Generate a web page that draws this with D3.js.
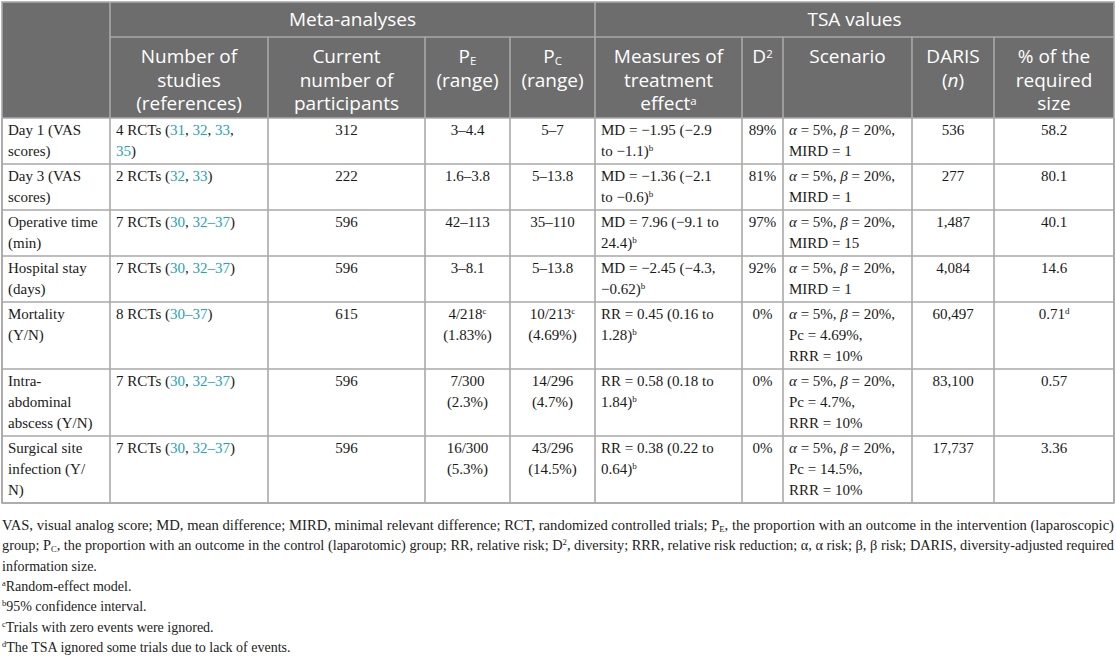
<!DOCTYPE html>
<html>
<head>
<meta charset="utf-8">
<script src="https://cdnjs.cloudflare.com/ajax/libs/d3/7.8.5/d3.min.js"></script>
<style>
  body { margin: 0; background: #fff; }
</style>
</head>
<body>
<div id="chart-area"></div>
<script>
// TABLE DATA -----------------------------------------------------
// markup: {r:..} reference link, {^..} superscript, {_..} subscript, {i:..} italic, \n line break
var outcomes = ["Day 1 (VAS\nscores)", "Day 3 (VAS\nscores)", "Operative time\n(min)", "Hospital stay\n(days)",
    "Mortality\n(Y/N)", "Intra-\nabdominal\nabscess (Y/N)", "Surgical site\ninfection (Y/\nN)"];
var studies = ["4 RCTs ({r:31}, {r:32}, {r:33},\n{r:35})", "2 RCTs ({r:32}, {r:33})", "7 RCTs ({r:30}, {r:32–37})",
    "7 RCTs ({r:30}, {r:32–37})", "8 RCTs ({r:30–37})", "7 RCTs ({r:30}, {r:32–37})", "7 RCTs ({r:30}, {r:32–37})"];
var participants = ["312", "222", "596", "596", "615", "596", "596"];
var pE = ["3–4.4", "1.6–3.8", "42–113", "3–8.1", "4/218{^c}\n(1.83%)", "7/300\n(2.3%)", "16/300\n(5.3%)"];
var pC = ["5–7", "5–13.8", "35–110", "5–13.8", "10/213{^c}\n(4.69%)", "14/296\n(4.7%)", "43/296\n(14.5%)"];
var effects = ["MD = −1.95 (−2.9\nto −1.1){^b}", "MD = −1.36 (−2.1\nto −0.6){^b}", "MD = 7.96 (−9.1 to\n24.4){^b}",
    "MD = −2.45 (−4.3,\n−0.62){^b}", "RR = 0.45 (0.16 to\n1.28){^b}", "RR = 0.58 (0.18 to\n1.84){^b}", "RR = 0.38 (0.22 to\n0.64){^b}"];
var diversity = ["89%", "81%", "97%", "92%", "0%", "0%", "0%"];
var scenarios = ["{i:α} = 5%, {i:β} = 20%,\nMIRD = 1", "{i:α} = 5%, {i:β} = 20%,\nMIRD = 1", "{i:α} = 5%, {i:β} = 20%,\nMIRD = 15",
    "{i:α} = 5%, {i:β} = 20%,\nMIRD = 1", "{i:α} = 5%, {i:β} = 20%,\nPc = 4.69%,\nRRR = 10%",
    "{i:α} = 5%, {i:β} = 20%,\nPc = 4.7%,\nRRR = 10%", "{i:α} = 5%, {i:β} = 20%,\nPc = 14.5%,\nRRR = 10%"];
var daris = ["536", "277", "1,487", "4,084", "60,497", "83,100", "17,737"];
var requiredPct = ["58.2", "80.1", "40.1", "14.6", "0.71{^d}", "0.57", "3.36"];

var columnHeaders = ["", "Number of\nstudies\n(references)", "Current\nnumber of\nparticipants", "P{_E}\n(range)", "P{_C}\n(range)",
    "Measures of\ntreatment\neffect{^a}", "D{^2}", "Scenario", "DARIS\n({i:n})", "% of the\nrequired\nsize"];
var groupHeaders = ["Meta-analyses", "TSA values"];
var groupSpans = [[1, 4], [5, 9]];

var footnotes = [
    "VAS, visual analog score; MD, mean difference; MIRD, minimal relevant difference; RCT, randomized controlled trials; P{_E}, the proportion with an outcome in the intervention (laparoscopic)",
    "group; P{_C}, the proportion with an outcome in the control (laparotomic) group; RR, relative risk; D{^2}, diversity; RRR, relative risk reduction; α, α risk; β, β risk; DARIS, diversity-adjusted required",
    "information size.",
    "{^a}Random-effect model.",
    "{^b}95% confidence interval.",
    "{^c}Trials with zero events were ignored.",
    "{^d}The TSA ignored some trials due to lack of events."
];

// LAYOUT ----------------------------------------------------------
var W = 1116, H = 658;
var colEdges = [2, 110, 268, 425, 510, 595, 742, 783, 912, 994, 1114];
var colAlign = ["start", "start", "middle", "middle", "middle", "start", "middle", "start", "middle", "middle"];
var top0 = 2, head1 = 37, head2 = 118;
var lineH = 21, rowPad = 4;
var headBg = "#6d6d6d", lineCol = "#a9a9a9", refCol = "#26a3b5";
var serif = "'Liberation Serif', 'Times New Roman', serif";
var sans = "'Open Sans', 'Noto Sans', sans-serif";

var columns = [outcomes, studies, participants, pE, pC, effects, diversity, scenarios, daris, requiredPct];
var rows = outcomes.map((d, i) => columns.map(c => c[i]));

var svg = d3.select("#chart-area").append("svg")
    .attr("width", W)
    .attr("height", H);

// rich text helper
function rich(textSel, str) {
    str.split(/(\{[^}]*\})/).filter(s => s.length).forEach(tok => {
        var m = tok.match(/^\{(\^|_|i:|r:)(.*)\}$/);
        var t = textSel.append("tspan");
        if (!m) { t.text(tok); return; }
        t.text(m[2]);
        if (m[1] == "^") t.attr("baseline-shift", "5").attr("font-size", "60%");
        if (m[1] == "_") t.attr("baseline-shift", "-2").attr("font-size", "60%");
        if (m[1] == "i:") t.attr("font-style", "italic");
        if (m[1] == "r:") t.attr("fill", refCol);
    });
}

function cellX(ci) {
    return colAlign[ci] == "middle" ? (colEdges[ci] + colEdges[ci + 1]) / 2 : colEdges[ci] + 6;
}

// HEADER ----------------------------------------------------------
var header = svg.append("g").attr("name", "Header");
header.append("rect")
    .attr("x", colEdges[0]).attr("y", top0)
    .attr("width", colEdges[10] - colEdges[0]).attr("height", head2 - top0)
    .attr("fill", headBg);

groupHeaders.forEach((g, i) => {
    var a = colEdges[groupSpans[i][0]], b = colEdges[groupSpans[i][1] + 1];
    header.append("text")
        .attr("x", (a + b) / 2).attr("y", 26)
        .attr("text-anchor", "middle")
        .attr("font-family", sans).attr("font-size", "19px")
        .attr("fill", "#fff")
        .text(g);
});

columnHeaders.forEach((h, ci) => {
    if (!h) return;
    h.split("\n").forEach((line, li) => {
        var t = header.append("text")
            .attr("x", (colEdges[ci] + colEdges[ci + 1]) / 2)
            .attr("y", 63 + li * 23.5)
            .attr("text-anchor", "middle")
            .attr("font-family", sans).attr("font-size", "19px")
            .attr("fill", "#fff");
        rich(t, line);
    });
});

// header grid lines
header.append("line")
    .attr("x1", colEdges[1]).attr("x2", colEdges[10])
    .attr("y1", head1).attr("y2", head1)
    .attr("stroke", lineCol).attr("stroke-width", 1.6);
colEdges.slice(1, 10).forEach((x, i) => {
    var isGroupEdge = (i + 1 == 1 || i + 1 == 5);
    header.append("line")
        .attr("x1", x).attr("x2", x)
        .attr("y1", isGroupEdge ? top0 : head1).attr("y2", head2)
        .attr("stroke", lineCol).attr("stroke-width", 1.6);
});

// BODY ------------------------------------------------------------
var rowHeights = rows.map(r => rowPad + lineH * d3.max(r, c => c.split("\n").length));
var rowTops = [head2].concat(Array.from(d3.cumsum(rowHeights), v => head2 + v));
var bottom = rowTops[rowTops.length - 1];

var body = svg.append("g").attr("name", "Body");

rows.forEach((r, ri) => {
    r.forEach((cell, ci) => {
        cell.split("\n").forEach((line, li) => {
            var t = body.append("text")
                .attr("x", cellX(ci))
                .attr("y", rowTops[ri] + 17 + li * lineH)
                .attr("text-anchor", colAlign[ci])
                .attr("font-family", serif).attr("font-size", "15px")
                .attr("fill", "#1a1a1a");
            rich(t, line);
        });
    });
});

// body grid
rowTops.forEach(y => {
    body.append("line")
        .attr("x1", colEdges[0]).attr("x2", colEdges[10])
        .attr("y1", y).attr("y2", y)
        .attr("stroke", lineCol).attr("stroke-width", 1.6);
});
colEdges.forEach(x => {
    body.append("line")
        .attr("x1", x).attr("x2", x)
        .attr("y1", head2).attr("y2", bottom)
        .attr("stroke", lineCol).attr("stroke-width", 1.6);
});
// outer border
svg.append("rect")
    .attr("x", colEdges[0]).attr("y", top0)
    .attr("width", colEdges[10] - colEdges[0]).attr("height", bottom - top0)
    .attr("fill", "none").attr("stroke", lineCol).attr("stroke-width", 1.6);

// FOOTNOTES -------------------------------------------------------
var foot = svg.append("g").attr("name", "Footnotes");
footnotes.forEach((f, i) => {
    var t = foot.append("text")
        .attr("x", 2)
        .attr("y", bottom + 27 + i * 20.3)
        .attr("font-family", serif).attr("font-size", "14px")
        .attr("fill", "#222");
    if (i < 2) t.attr("textLength", 1112).attr("lengthAdjust", "spacingAndGlyphs");
    rich(t, f);
});
</script>
</body>
</html>
